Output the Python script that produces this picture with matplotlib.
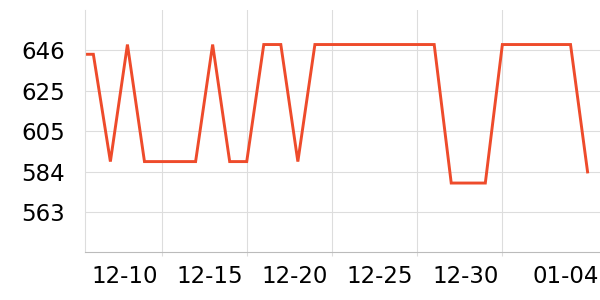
import matplotlib
matplotlib.use("Agg")
import matplotlib.pyplot as plt
import matplotlib.transforms as mtransforms
import numpy as np
import pandas as pd

dates = ["2023-12-05 12:00", "2023-12-06 00:00", "2023-12-07 00:00", "2023-12-08 00:00", "2023-12-09 00:00",
         "2023-12-10 00:00", "2023-12-11 00:00", "2023-12-12 00:00", "2023-12-13 00:00", "2023-12-14 00:00",
         "2023-12-15 00:00", "2023-12-16 00:00", "2023-12-17 00:00", "2023-12-18 00:00", "2023-12-19 00:00",
         "2023-12-20 00:00", "2023-12-21 00:00", "2023-12-22 00:00", "2023-12-23 00:00", "2023-12-24 00:00",
         "2023-12-25 00:00", "2023-12-26 00:00", "2023-12-27 00:00", "2023-12-28 00:00", "2023-12-29 00:00",
         "2023-12-30 00:00", "2023-12-31 00:00", "2024-01-01 00:00", "2024-01-02 00:00", "2024-01-03 00:00",
         "2024-01-04 00:00"]
values = [644, 644, 589, 649, 589,
          589, 589, 589, 649, 589,
          589, 649, 649, 589, 649,
          649, 649, 649, 649, 649,
          649, 649, 578, 578, 578,
          649, 649, 649, 649, 649,
          583.7]

ytick_values = [563.2, 583.9, 604.6, 625.3, 646.0]
ytick_labels = ["563", "584", "605", "625", "646"]
xtick_dates = ["2023-12-10", "2023-12-15", "2023-12-20", "2023-12-25", "2023-12-30", "2024-01-04"]
xtick_labels = ["12-10", "12-15", "12-20", "12-25", "12-30", "01-04"]

x = pd.to_datetime(dates, format="%Y-%m-%d %H:%M")
fig = plt.figure(figsize=(6, 3), dpi=100)
ax = fig.add_axes([85/600, 1 - 252.3/300, 1 - 85/600, (252.3 - 10)/300])

ax.plot(x, values, color="#ee4b2b", linewidth=2.1, solid_joinstyle="miter")

ax.set_ylim(542.5, 666.7)
ax.set_yticks(ytick_values)
ax.set_yticklabels(ytick_labels)
xt = pd.to_datetime(xtick_dates, format="%Y-%m-%d")
ax.set_xticks(xt)
ax.set_xticklabels(xtick_labels, ha="right")
ax.set_xlim(pd.Timestamp("2023-12-05 12:15"), pd.Timestamp("2024-01-04 17:30"))

ax.grid(True, color="#dddddd", linewidth=0.8)
ax.set_axisbelow(True)
for s in ["top", "right"]:
    ax.spines[s].set_visible(False)
ax.spines["left"].set_color("#dddddd")
ax.spines["left"].set_linewidth(0.8)
ax.spines["bottom"].set_color("#bbbbbb")
ax.spines["bottom"].set_linewidth(0.8)

ax.tick_params(axis="y", length=0, pad=14.5, labelsize=16.5, labelcolor="black")
ax.tick_params(axis="x", length=3, color="#dddddd", pad=6, labelsize=16.5, labelcolor="black")

# last date tick has no grid line / tick mark in the reference
ax.get_xgridlines()[-1].set_visible(False)
ax.xaxis.get_major_ticks()[-1].tick1line.set_visible(False)

labels = ax.get_xticklabels()
for i, lab in enumerate(labels):
    dx = -4 if i < len(labels) - 1 else 11
    lab.set_transform(lab.get_transform() + mtransforms.ScaledTranslation(dx / 100, 0, fig.dpi_scale_trans))

fig.savefig("out.png", dpi=100)
